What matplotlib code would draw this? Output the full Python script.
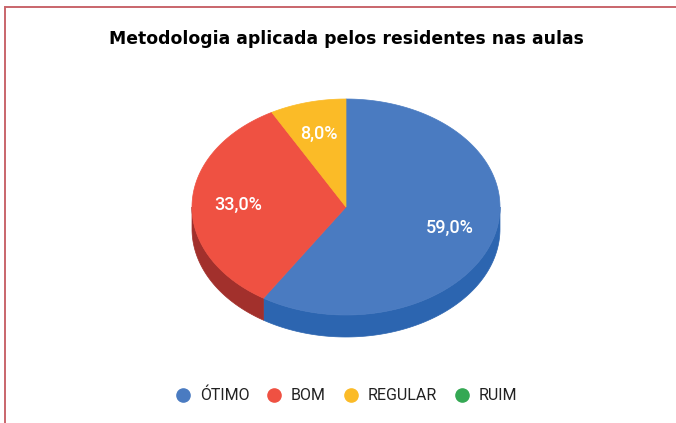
import numpy as np
import matplotlib
matplotlib.use("Agg")
import matplotlib.pyplot as plt
from matplotlib.patches import Polygon

# data
categories = ['ÓTIMO', 'BOM', 'REGULAR', 'RUIM']
values = [59.0, 33.0, 8.0, 0.0]
top_colors = ['#4a7bc1', '#ef5142', '#fbbb27', '#34a853']
side_colors = ['#2c65b0', '#a2302c', '#c88f10', '#23793b']

title = 'Metodologia aplicada pelos residentes nas aulas'

W, H = 676, 423
fig = plt.figure(figsize=(W / 100, H / 100), dpi=100)
ax = fig.add_axes([0, 0, 1, 1])
ax.set_xlim(0, W)
ax.set_ylim(H, 0)
ax.axis('off')

# red frame (top and left only)
ax.plot([5, 5, W], [H, 7, 7], color='#c9656b', lw=1.4, solid_joinstyle='miter')

ax.text(346, 39, title, ha='center', va='center', fontsize=12.4,
        fontweight='bold', family='DejaVu Sans', color='#000000')

# 3d pie geometry
cx, cy = 346, 207
rx, ry = 154, 108
depth = 22


def pt(t, dy=0.0):
    t = np.radians(t)
    return cx + rx * np.cos(t), cy - ry * np.sin(t) + dy


total = sum(values)
start = 90.0
slices = []
for v in values:
    span = 360.0 * v / total
    slices.append((start - span, start))
    start -= span

# side walls (front half only: t in [-180, 0])
for (t1, t0), col in zip(slices, side_colors):
    a, b = max(t1, -180.0), min(t0, 0.0)
    if b <= a:
        continue
    ts = np.linspace(a, b, 100)
    top = [pt(t) for t in ts]
    bot = [pt(t, depth) for t in ts[::-1]]
    ax.add_patch(Polygon(top + bot, closed=True, facecolor=col,
                         edgecolor=col, lw=0.5))

# top wedges
for (t1, t0), col in zip(slices, top_colors):
    if t0 - t1 <= 0:
        continue
    ts = np.linspace(t1, t0, 200)
    verts = [(cx, cy)] + [pt(t) for t in ts]
    ax.add_patch(Polygon(verts, closed=True, facecolor=col,
                         edgecolor=col, lw=0.5))

# percentage labels
for (t1, t0), v in zip(slices, values):
    if v <= 0:
        continue
    tm = np.radians((t1 + t0) / 2)
    x, y = cx + 0.7 * rx * np.cos(tm), cy - 0.7 * ry * np.sin(tm)
    ax.text(x, y, f'{v:.1f}%'.replace('.', ','), ha='center', va='center',
            color='white', fontsize=13, family='Roboto', fontweight='medium')

# legend (drawn by hand, one entry per category)
leg_x = [183, 274, 351, 462]
leg_y = 395
for lx, name, col in zip(leg_x, categories, top_colors):
    ax.plot([lx], [leg_y], marker='o', ls='', markersize=9.5,
            markerfacecolor=col, markeredgecolor=col)
    ax.text(lx + 17, leg_y, name, ha='left', va='center', fontsize=11.5,
            family='Roboto', color='#222222')

fig.savefig('out.png', dpi=100)
